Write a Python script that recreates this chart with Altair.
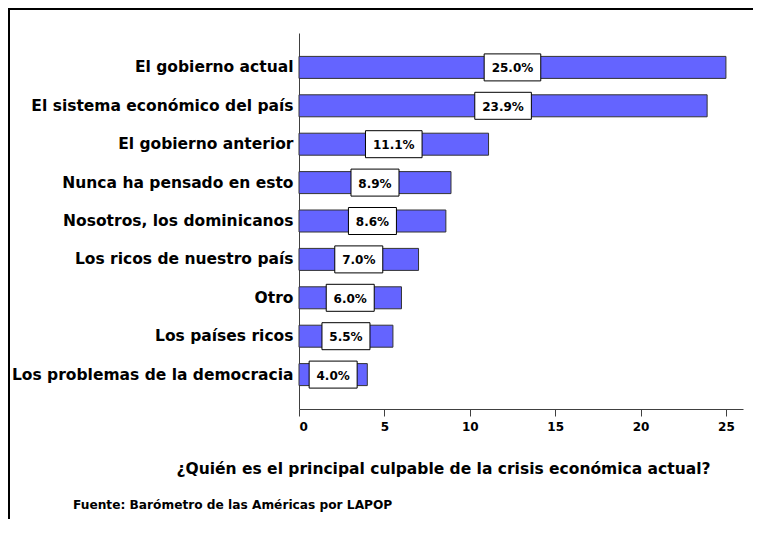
import altair as alt
import pandas as pd

# ---- data ----
categories = [
    "El gobierno actual",
    "El sistema económico del país",
    "El gobierno anterior",
    "Nunca ha pensado en esto",
    "Nosotros, los dominicanos",
    "Los ricos de nuestro país",
    "Otro",
    "Los países ricos",
    "Los problemas de la democracia",
]
values = [25.0, 23.9, 11.1, 8.9, 8.6, 7.0, 6.0, 5.5, 4.0]
value_labels = ["25.0%", "23.9%", "11.1%", "8.9%", "8.6%", "7.0%", "6.0%", "5.5%", "4.0%"]
x_ticks = [0, 5, 10, 15, 20, 25]
x_domain = [0, 26]
x_title = "¿Quién es el principal culpable de la crisis económica actual?"
source_text = "Fuente: Barómetro de las Américas por LAPOP"

df = pd.DataFrame({"cat": categories, "value": values, "label": value_labels})

W, H = 444, 376
PX_PER_UNIT = W / (x_domain[1] - x_domain[0])
FONT = "DejaVu Sans"
AXIS_COLOR = "#404040"

y_axis = alt.Axis(
    title=None, ticks=False, domainColor=AXIS_COLOR, domainWidth=1,
    labelFont=FONT, labelFontWeight="bold", labelFontSize=15.5,
    labelColor="black", labelPadding=6, labelLimit=400,
)
y_scale = alt.Scale(paddingInner=0, paddingOuter=0.396)

x_axis = alt.Axis(
    values=x_ticks, grid=False, tickSize=7, tickColor=AXIS_COLOR,
    domainColor=AXIS_COLOR, domainWidth=1,
    labelFont=FONT, labelFontWeight="bold", labelFontSize=12, labelColor="black",
    labelPadding=5,
    titleFont=FONT, titleFontWeight="bold", titleFontSize=15.5,
    titleColor="black", titleX=144, titleY=64.5, titleAlign="center",
    titleBaseline="alphabetic",
)
x_scale = alt.Scale(domain=x_domain, nice=False, zero=True)


def yenc():
    return alt.Y("cat:N", sort=categories, scale=y_scale, axis=y_axis)


bars = alt.Chart(df).mark_bar(
    size=22, color="#6464FF", stroke="#333333", strokeWidth=1
).encode(
    x=alt.X("value:Q", scale=x_scale, axis=x_axis, title=x_title),
    y=yenc(),
)

boxes = alt.Chart(df).transform_calculate(
    half="(length(datum.label) * 4.3 + 6.8) / " + str(PX_PER_UNIT),
    lo="datum.value / 2 - datum.half",
    hi="datum.value / 2 + datum.half",
).mark_bar(
    size=27, fill="white", stroke="black", strokeWidth=1
).encode(
    x=alt.X("lo:Q", scale=x_scale, axis=x_axis, title=x_title),
    x2="hi:Q",
    y=yenc(),
)

texts = alt.Chart(df).transform_calculate(
    mid="datum.value / 2"
).mark_text(
    font=FONT, fontWeight="bold", fontSize=12, color="black",
    align="center", baseline="middle", dy=1,
).encode(
    x=alt.X("mid:Q", scale=x_scale, axis=x_axis, title=x_title),
    y=yenc(),
    text="label:N",
)

one = pd.DataFrame({"t": [source_text]})

footer = alt.Chart(one).mark_text(
    font=FONT, fontWeight="bold", fontSize=12.2, color="black",
    align="left", baseline="alphabetic",
).encode(
    x=alt.value(-226), y=alt.value(476), text="t:N",
)

frame_top = alt.Chart(one).mark_rule(color="black", strokeWidth=2).encode(
    x=alt.value(-291), x2=alt.value(520), y=alt.value(-24)
)
frame_left = alt.Chart(one).mark_rule(color="black", strokeWidth=2).encode(
    x=alt.value(-290), y=alt.value(-25), y2=alt.value(560)
)

chart = alt.layer(bars, boxes, texts, footer, frame_top, frame_left).properties(
    width=W, height=H,
    autosize=alt.AutoSizeParams(type="none"),
    padding={"left": 291, "top": 25, "right": 10, "bottom": 110},
).configure_view(stroke=None)

chart.save("out.html", embed_options={"renderer": "svg", "actions": False})
